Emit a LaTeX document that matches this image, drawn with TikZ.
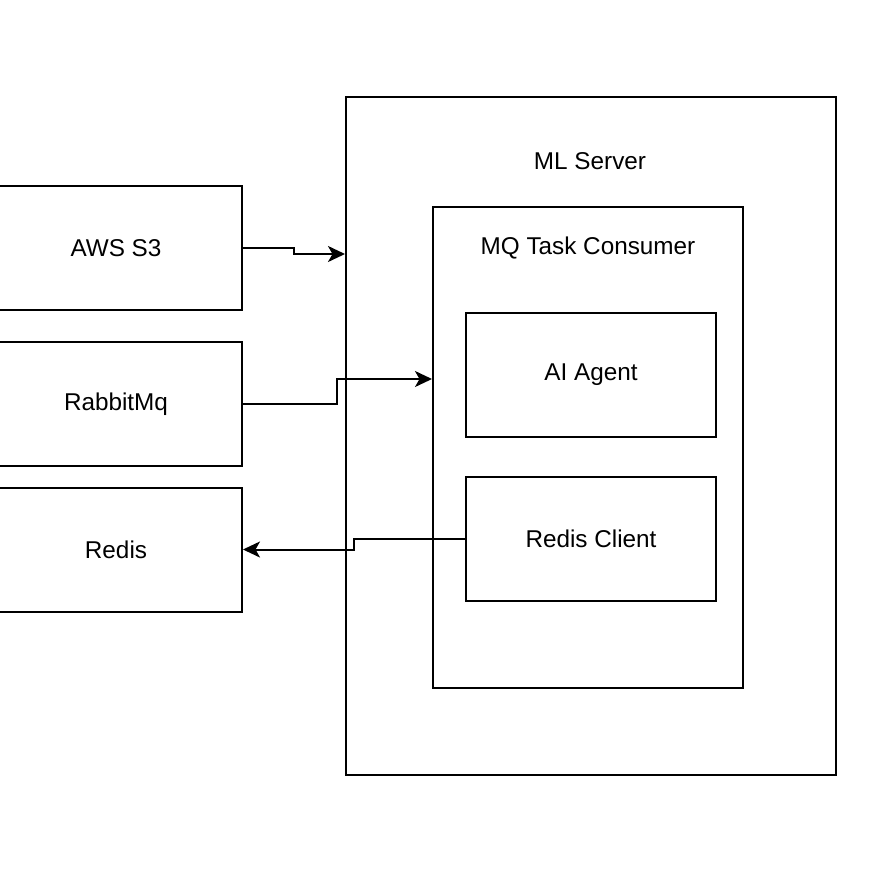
\documentclass[tikz,border=0pt]{standalone}
\usepackage{fontspec}
\setmainfont{Liberation Sans}
\usetikzlibrary{arrows.meta,calc}
\begin{document}
\begin{tikzpicture}[x=1pt,y=-1pt,
  every node/.style={font=\fontsize{24.3}{29}\selectfont},
  box/.style={draw=black, line width=2pt, rectangle, inner sep=0pt},
  lbl/.style={inner sep=0pt},
  conn/.style={draw=black, line width=2pt, -{Stealth[length=17pt,width=16pt,inset=4.5pt]}}]
\useasboundingbox (0,0) rectangle (870,876);
% outer containers
\node[box, minimum width=490pt, minimum height=678pt] (ml) at (591,436) {};
\node[lbl] (mltitle) at (590,161) {ML Server};
\node[box, minimum width=310pt, minimum height=481pt] (mq) at (588,447.5) {};
\node[lbl] (mqtitle) at (588,248) {MQ Task Consumer};
\node[box, minimum width=250pt, minimum height=124pt] (agent) at (591,375) {AI Agent};
\node[box, minimum width=250pt, minimum height=124pt] (rclient) at (591,539) {Redis Client};
% left boxes (cut by left edge)
\node[box, minimum width=262pt, minimum height=124pt] (s3) at (111,248) {\hspace*{10pt}AWS S3};
\node[box, minimum width=262pt, minimum height=124pt] (rabbit) at (111,404) {\hspace*{10pt}RabbitMq};
\node[box, minimum width=262pt, minimum height=124pt] (redis) at (111,549.5) {\hspace*{10pt}Redis};
% connector end points
\coordinate (s3in) at (ml.west |- 0,254);
\coordinate (mqin) at (mq.west |- 0,379);
% connectors
\draw[conn] (s3.east) -- (294,248) -- (294,254) -- (s3in);
\draw[conn] (rabbit.east) -- (337,404) -- (337,379) -- (mqin);
\draw[conn] (rclient.west) -- (354,539) -- (354,549.5) -- (redis.east);
\end{tikzpicture}
\end{document}
